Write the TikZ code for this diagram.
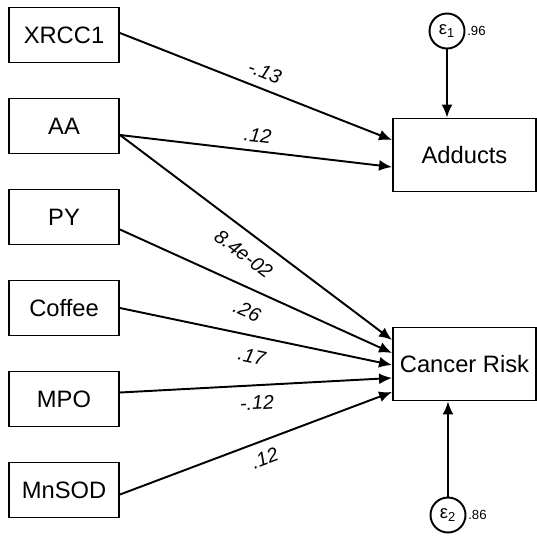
\documentclass[tikz,border=0pt]{standalone}
\usepackage{fontspec}
\setmainfont{Liberation Sans}
\usetikzlibrary{arrows.meta, positioning}

\begin{document}
\begin{tikzpicture}[node distance=1.82cm, line width=1.1pt,
 >={Latex[length=0.26cm,width=0.22cm]},
 var node/.style={rectangle, draw, minimum width=2.2cm, minimum height=1.1cm,
  font=\fontsize{13.5}{16}\selectfont},
 out node/.style={var node, minimum width=2.86cm, minimum height=1.46cm},
 err node/.style={circle, draw, minimum size=0.7cm, inner sep=0pt,
  font=\fontsize{10.5}{12}\selectfont},
 var label/.style={inner sep=0.5pt, font=\fontsize{7.5}{9}\selectfont},
 coef/.style={sloped, inner sep=0pt, font=\fontsize{11.2}{13}\selectfont\itshape}]
  \useasboundingbox (0,0) rectangle (10.74,10.70);

  \node[var node] (xrcc) at (1.28,10.0) {XRCC1};
  \node[var node] (aa) [below of=xrcc] {AA};
  \node[var node] (py) [below of=aa] {PY};
  \node[var node] (coffee) [below of=py] {Coffee};
  \node[var node] (mpo) [below of=coffee] {MPO};
  \node[var node] (mnsod) [below of=mpo] {MnSOD};

  \node[out node] (adducts) at (9.29,7.6) {Adducts};
  \node[out node] (cancer) [below of=adducts, node distance=4.18cm] {Cancer Risk};

  \node[err node] (e1) at (8.94,10.08) {ε\textsubscript{1}};
  \node[err node] (e2) at (8.96,0.4) {ε\textsubscript{2}};
  \node[var label] (r1) [right=0pt of e1] {.96};
  \node[var label] (r2) [right=0pt of e2] {.86};

  \foreach \s/\a/\t/\b/\p/\d/\v in {xrcc/0.04/adducts/0.30/0.51/0.33/-.13,
    aa/-0.18/adducts/-0.24/0.5/0.31/.12, aa/-0.18/cancer/0.48/0.5/-0.41/8.4e-02,
    py/-0.25/cancer/0.22/0.5/-0.43/.26, coffee/0/cancer/-0.02/0.5/-0.40/.17,
    mpo/0.13/cancer/-0.28/0.5/-0.35/-.12, mnsod/-0.09/cancer/-0.56/0.51/-0.34/.12} {
   \draw[->] ([yshift=\a cm]\s.east) -- ([yshift=\b cm]\t.west)
     node[coef, pos=\p, yshift=\d cm] {\v};}

  \draw[->] (e1) -- (e1 |- adducts.north);
  \draw[->] (e2) -- (e2 |- cancer.south);
\end{tikzpicture}
\end{document}
